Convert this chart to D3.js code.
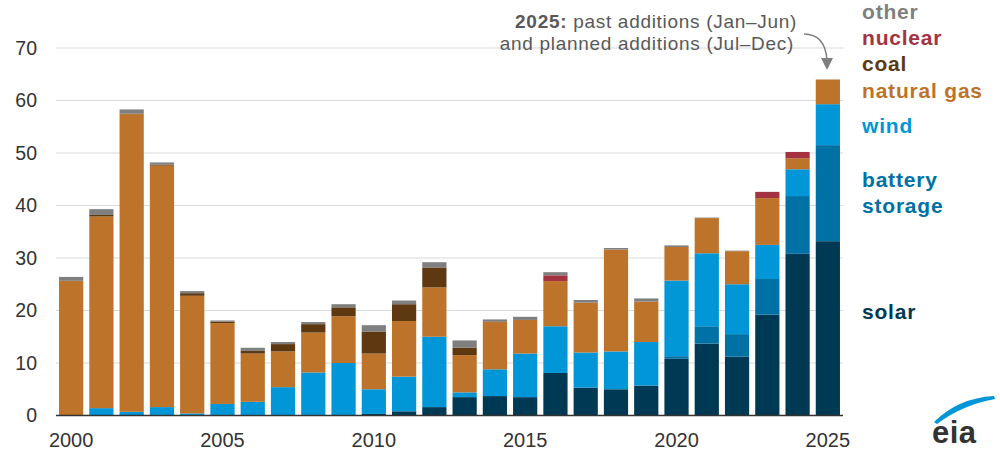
<!DOCTYPE html>
<html><head><meta charset="utf-8">
<script src="https://cdn.jsdelivr.net/npm/d3@7"></script>
<style>body{margin:0;background:#fff;font-family:Arial,"Liberation Sans",sans-serif;}</style>
</head><body><svg id="c" width="1000" height="455"></svg>
<script>
const years = d3.range(2000, 2026);
const solar   = [0,0,0,0,0,0,0,0,0,0,0.3,0.8,1.6,3.5,3.7,3.5,8.1,5.3,5.0,5.7,10.8,13.7,11.2,19.2,30.8,33.2];
const battery = [0,0,0,0,0,0,0,0,0,0,0,0,0,0,0,0,0,0,0,0,0.5,3.3,4.3,6.8,11.0,18.3];
const wind    = [0,1.4,0.7,1.6,0.4,2.2,2.6,5.4,8.2,10.0,4.7,6.6,13.4,0.9,5.1,8.3,8.9,6.7,7.2,8.3,14.4,13.9,9.5,6.5,5.1,7.8];
const gas     = [25.6,36.5,56.7,46.0,22.4,15.4,9.2,6.8,7.6,8.9,6.8,10.6,9.4,7.1,9.0,6.4,8.6,9.5,19.4,7.7,6.4,6.7,6.3,8.9,2.1,4.7];
const coal    = [0.1,0.3,0.1,0.2,0.5,0.3,0.5,1.4,1.6,1.7,4.2,3.2,3.8,1.4,0.1,0,0,0,0,0,0,0,0,0,0,0];
const nuclear = [0,0,0,0,0,0,0,0,0,0,0,0,0,0,0,0,1.1,0,0,0,0,0,0,1.2,1.2,0];
const other   = [0.7,1.1,0.8,0.4,0.4,0.2,0.6,0.4,0.4,0.6,1.2,0.7,1.0,1.4,0.4,0.6,0.6,0.5,0.3,0.6,0.3,0.1,0.1,0,0,0];
const seriesNames = ["solar","battery storage","wind","natural gas","coal","nuclear","other"];
const colors = ["#003953","#0071A5","#0096D7","#BD732A","#5D3811","#A33340","#7F7F7F"];
const yTicks = [0,10,20,30,40,50,60,70];
const xTickYears = [2000,2005,2010,2015,2020,2025];

const svg = d3.select("#c");
const table = years.map((y,i)=>({year:y, "solar":solar[i], "battery storage":battery[i], "wind":wind[i], "natural gas":gas[i], "coal":coal[i], "nuclear":nuclear[i], "other":other[i]}));
const stack = d3.stack().keys(seriesNames)(table);

const x = d3.scaleBand().domain(years).range([56, 843]).paddingInner(0.2).paddingOuter(0.1);
const y = d3.scaleLinear().domain([0,70]).range([415.5, 48]);

// gridlines
svg.append("g").selectAll("line").data(yTicks.filter(d=>d>0)).join("line")
  .attr("x1",56).attr("x2",843).attr("y1",d=>y(d)).attr("y2",d=>y(d))
  .attr("stroke","#d9d9d9").attr("stroke-width",1.2);

// y labels
svg.append("g").selectAll("text").data(yTicks).join("text")
  .attr("x",37).attr("y",d=>y(d)).attr("dy","0.35em").attr("text-anchor","end")
  .attr("font-size",19.5).attr("fill","#333").text(d=>d);

// bars
svg.append("g").selectAll("g").data(stack).join("g")
  .attr("fill",(d,i)=>colors[i])
  .selectAll("rect").data(d=>d).join("rect")
  .attr("x",d=>x(d.data.year)).attr("width",x.bandwidth())
  .attr("y",d=>y(d[1])).attr("height",d=>Math.max(0,y(d[0])-y(d[1])));

// baseline
svg.append("line").attr("x1",56).attr("x2",843).attr("y1",y(0)).attr("y2",y(0))
  .attr("stroke","#333").attr("stroke-width",1.5);

// x labels
svg.append("g").selectAll("text").data(xTickYears).join("text")
  .attr("x",d=>x(d)+x.bandwidth()/2).attr("y",447).attr("text-anchor","middle")
  .attr("font-size",20).attr("fill","#333").text(d=>d);

// legend
const legend = [
  {t:["other"], c:"#7F7F7F", y:19},
  {t:["nuclear"], c:"#A33340", y:45},
  {t:["coal"], c:"#5D3811", y:71},
  {t:["natural gas"], c:"#BD732A", y:98},
  {t:["wind"], c:"#0096D7", y:133},
  {t:["battery","storage"], c:"#0071A5", y:187},
  {t:["solar"], c:"#003953", y:319}
];
legend.forEach(l=>{
  const t = svg.append("text").attr("x",862).attr("y",l.y).attr("font-size",21)
    .attr("letter-spacing",0.8).attr("font-weight","bold").attr("fill",l.c);
  l.t.forEach((s,i)=>t.append("tspan").attr("x",862).attr("dy",i?26:0).text(s));
});

// annotation
const a1 = svg.append("text").attr("x",797).attr("y",28).attr("text-anchor","end")
  .attr("font-size",19).attr("letter-spacing",0.7).attr("fill","#595959");
a1.append("tspan").attr("font-weight","bold").text("2025:");
a1.append("tspan").text(" past additions (Jan\u2013Jun)");
svg.append("text").attr("x",794).attr("y",50).attr("text-anchor","end")
  .attr("font-size",19).attr("letter-spacing",0.7).attr("fill","#595959")
  .text("and planned additions (Jul\u2013Dec)");
svg.append("path").attr("d","M804,34 Q825,34 827,60").attr("fill","none").attr("stroke","#7F7F7F").attr("stroke-width",1.5);
svg.append("path").attr("d","M821,58 L833,58 L827,70 Z").attr("fill","#7F7F7F");

// eia logo
const lg = svg.append("g");
lg.append("path").attr("d","M934,422 Q958,398 994,396 L995,399 Q962,405 937,424 Z").attr("fill","#0096D7");
lg.append("text").attr("x",932).attr("y",443).attr("font-size",31).attr("font-weight","bold")
  .attr("letter-spacing",0.5).attr("fill","#333").text("eia");
</script></body></html>
